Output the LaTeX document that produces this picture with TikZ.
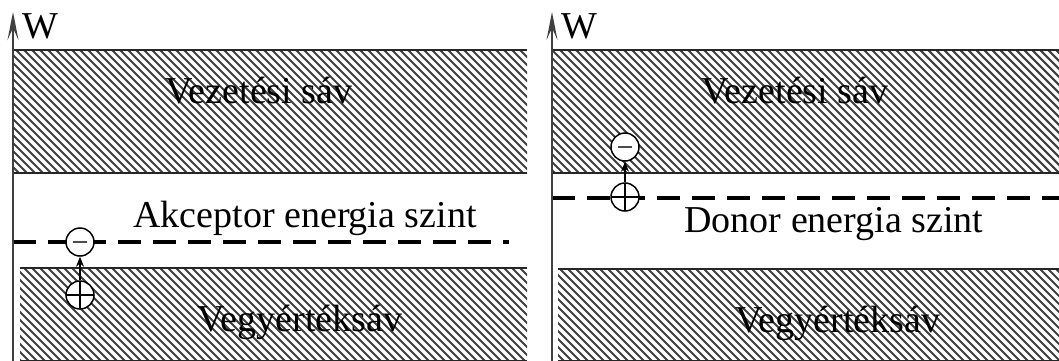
\documentclass[tikz,border=0pt]{standalone}
\usepackage{fontspec}
\setmainfont{Liberation Serif}
\usetikzlibrary{arrows.meta}
\newcommand{\myhatch}[4]{%
  \begin{scope}
    \clip (#1,#2) rectangle (#3,#4);
    \pgfmathsetmacro{\hh}{#4-#2}
    \foreach \i in {-200,-192,...,1100} {
      \draw[hatchline] (\i,#2) -- ++(\hh,\hh);
    }
  \end{scope}
  \draw[bandedge] (#1,#2) -- (#3,#2);
  \draw[bandedge] (#1,#4) -- (#3,#4);
}
\begin{document}
\begin{tikzpicture}[x=1pt,y=-1pt,
  hatchline/.style={line width=2.1pt,black!75},
  bandedge/.style={line width=1.6pt,black!85},
  axisline/.style={line width=1.6pt,black!75,-{Stealth[length=28pt,width=11pt,inset=12pt]}},
  level/.style={line width=3.4pt,black,dash pattern=on 23pt off 12pt},
  lbl/.style={font=\fontsize{38}{40}\selectfont,inner sep=0pt,anchor=base},
  chg/.style={circle,draw,line width=1.5pt,fill=white,minimum size=28pt,inner sep=0pt},
  minuschg/.style={chg,path picture={\draw[line width=1.5pt,black!70]
      ([xshift=7pt]path picture bounding box.west) -- ([xshift=-7pt]path picture bounding box.east);}},
  pluschg/.style={chg,path picture={\draw[line width=1.5pt]
      (path picture bounding box.west) -- (path picture bounding box.east)
      (path picture bounding box.north) -- (path picture bounding box.south);}},
  jump/.style={line width=1.3pt,-{Stealth[length=10pt,width=8pt]}}
]
\useasboundingbox (0,0) rectangle (1059,361);
\fill[white] (0,0) rectangle (1059,361);

% ---------- left panel ----------
\myhatch{13}{50}{527}{173}
\myhatch{20}{268}{527}{361}
\coordinate (dL0) at (13,242);
\coordinate (dL1) at (509,242);
\draw[level] (dL0) -- (dL1);
\coordinate (axL0) at (13,361);
\coordinate (axL1) at (13,12);
\draw[axisline] (axL0) -- (axL1);
\node[lbl,anchor=base west] (wL) at (22,38) {W};
\node[lbl] (condL) at (259,103) {Vezetési sáv};
\node[lbl] (valL) at (300,331) {Vegyértéksáv};
\node[lbl] (accL) at (305,227) {Akceptor energia szint};
\node[minuschg] (mL) at (80,242) {};
\node[pluschg] (pL) at (80,295) {};
\draw[jump] (pL.north) -- (mL.south);

% ---------- right panel ----------
\myhatch{552}{50}{1059}{173}
\myhatch{558}{269}{1059}{361}
\coordinate (dR0) at (552,198);
\coordinate (dR1) at (1059,198);
\draw[level] (dR0) -- (dR1);
\coordinate (axR0) at (552,361);
\coordinate (axR1) at (552,12);
\draw[axisline] (axR0) -- (axR1);
\node[lbl,anchor=base west] (wR) at (561,38) {W};
\node[lbl] (condR) at (795,103) {Vezetési sáv};
\node[lbl] (valR) at (838,332) {Vegyértéksáv};
\node[lbl] (donR) at (834,232) {Donor energia szint};
\node[minuschg] (mR) at (625,147) {};
\node[pluschg] (pR) at (625,197) {};
\draw[jump] (pR.north) -- (mR.south);
\end{tikzpicture}
\end{document}
